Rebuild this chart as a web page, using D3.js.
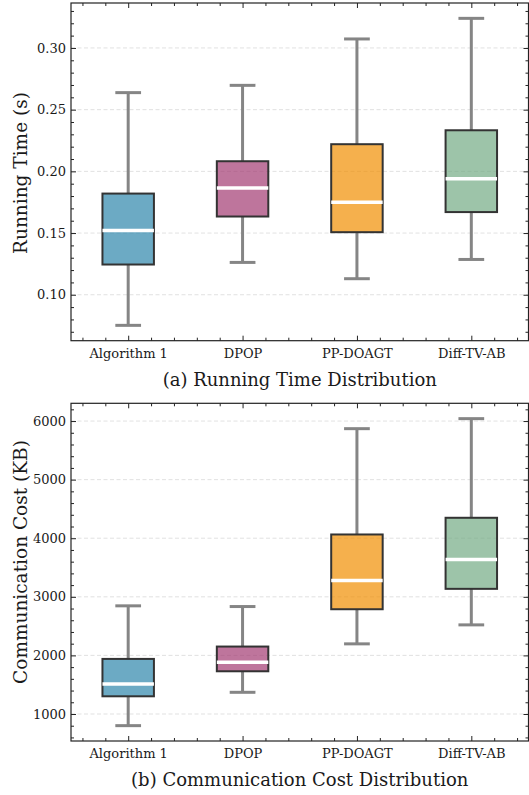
<!DOCTYPE html>
<html>
<head>
<meta charset="utf-8">
<script src="https://cdn.jsdelivr.net/npm/d3@7"></script>
<style>
  html, body { margin: 0; padding: 0; background: #fff; }
  svg text { font-family: "DejaVu Serif", "Liberation Serif", serif; fill: #1a1a1a; }
</style>
</head>
<body>
<svg id="chart" width="529" height="795"></svg>
<script>
// ---------- data ----------
const categories = ["Algorithm 1", "DPOP", "PP-DOAGT", "Diff-TV-AB"];
const boxColors = ["#2E86AB", "#A23B72", "#F18F01", "#73AB84"];

const timeLow    = [0.0752, 0.1262, 0.1130, 0.1286];
const timeQ1     = [0.1245, 0.1634, 0.1507, 0.1670];
const timeMedian = [0.1520, 0.1866, 0.1750, 0.1940];
const timeQ3     = [0.1820, 0.2082, 0.2220, 0.2333];
const timeHigh   = [0.2638, 0.2697, 0.3073, 0.3240];
const timeTicks  = [0.10, 0.15, 0.20, 0.25, 0.30];

const costLow    = [801, 1370, 2197, 2521];
const costQ1     = [1302, 1729, 2788, 3136];
const costMedian = [1513, 1883, 3278, 3637];
const costQ3     = [1940, 2151, 4064, 4349];
const costHigh   = [2846, 2834, 5870, 6041];
const costTicks  = [1000, 2000, 3000, 4000, 5000, 6000];

const svg = d3.select("#chart");
const left = 71, right = 528.5;

function panel(cfg) {
  const g = svg.append("g");
  const x = d3.scaleLinear().domain([0.5, 4.5]).range([left, right]);
  const lo = d3.min(cfg.low), hi = d3.max(cfg.high);
  const pad = (hi - lo) * 0.05;
  const y = d3.scaleLinear().domain([lo - pad, hi + pad]).range([cfg.bottom, cfg.top]);

  // grid
  g.append("g").selectAll("line").data(cfg.ticks).join("line")
    .attr("x1", left).attr("x2", right)
    .attr("y1", d => y(d)).attr("y2", d => y(d))
    .attr("stroke", "#d9d9d9").attr("stroke-width", 0.8)
    .attr("stroke-dasharray", "4,2.5");

  const boxW = 0.45, capW = boxW / 2;
  const idx = d3.range(categories.length);
  const pos = i => i + 1;

  // whiskers
  g.append("g").selectAll("line.wl").data(idx).join("line")
    .attr("x1", i => x(pos(i))).attr("x2", i => x(pos(i)))
    .attr("y1", i => y(cfg.low[i])).attr("y2", i => y(cfg.q1[i]))
    .attr("stroke", "#858585").attr("stroke-width", 3);
  g.append("g").selectAll("line.wh").data(idx).join("line")
    .attr("x1", i => x(pos(i))).attr("x2", i => x(pos(i)))
    .attr("y1", i => y(cfg.high[i])).attr("y2", i => y(cfg.q3[i]))
    .attr("stroke", "#858585").attr("stroke-width", 3);
  // caps
  [cfg.low, cfg.high].forEach(arr => {
    g.append("g").selectAll("line").data(idx).join("line")
      .attr("x1", i => x(pos(i) - capW / 2)).attr("x2", i => x(pos(i) + capW / 2))
      .attr("y1", i => y(arr[i])).attr("y2", i => y(arr[i]))
      .attr("stroke", "#858585").attr("stroke-width", 3);
  });
  // boxes
  g.append("g").selectAll("rect").data(idx).join("rect")
    .attr("x", i => x(pos(i) - boxW / 2))
    .attr("width", i => x(pos(i) + boxW / 2) - x(pos(i) - boxW / 2))
    .attr("y", i => y(cfg.q3[i]))
    .attr("height", i => y(cfg.q1[i]) - y(cfg.q3[i]))
    .attr("fill", i => boxColors[i]).attr("fill-opacity", 0.7)
    .attr("stroke", "#333").attr("stroke-width", 2);
  // medians
  g.append("g").selectAll("line").data(idx).join("line")
    .attr("x1", i => x(pos(i) - boxW / 2)).attr("x2", i => x(pos(i) + boxW / 2))
    .attr("y1", i => y(cfg.median[i])).attr("y2", i => y(cfg.median[i]))
    .attr("stroke", "#fff").attr("stroke-width", 3.5);

  // minor tick values
  const yStep = cfg.ticks[1] - cfg.ticks[0];
  const yMinor = [];
  const [d0, d1] = y.domain();
  const n0 = Math.ceil(d0 / (yStep / 5) - 1e-9), n1 = Math.floor(d1 / (yStep / 5) + 1e-9);
  for (let k = n0; k <= n1; k++) {
    const v = k * yStep / 5;
    if (Math.abs(Math.round(v / yStep) * yStep - v) > yStep * 1e-3) yMinor.push(v);
  }
  const xMinor = d3.range(3, 23).map(k => k / 5).filter(v => Math.abs(v - Math.round(v)) > 1e-6);

  const styleAxis = sel => {
    sel.select(".domain").remove();
    sel.selectAll(".tick line").attr("stroke", "#222").attr("stroke-width", 1);
  };

  // left axis
  g.append("g").attr("transform", `translate(${left},0)`)
    .call(d3.axisLeft(y).tickValues(cfg.ticks).tickSize(-5).tickPadding(5).tickFormat(cfg.fmt))
    .call(styleAxis)
    .call(s => s.selectAll("text").attr("font-size", 13));
  g.append("g").attr("transform", `translate(${left},0)`)
    .call(d3.axisLeft(y).tickValues(yMinor).tickSize(-3).tickFormat(""))
    .call(styleAxis);
  // right axis
  g.append("g").attr("transform", `translate(${right},0)`)
    .call(d3.axisRight(y).tickValues(cfg.ticks).tickSize(-5).tickFormat(""))
    .call(styleAxis);
  g.append("g").attr("transform", `translate(${right},0)`)
    .call(d3.axisRight(y).tickValues(yMinor).tickSize(-3).tickFormat(""))
    .call(styleAxis);
  // bottom axis
  g.append("g").attr("transform", `translate(0,${cfg.bottom})`)
    .call(d3.axisBottom(x).tickValues([1, 2, 3, 4]).tickSize(-5).tickPadding(8)
      .tickFormat(d => categories[d - 1]))
    .call(styleAxis)
    .call(s => s.selectAll("text").attr("font-size", 13));
  g.append("g").attr("transform", `translate(0,${cfg.bottom})`)
    .call(d3.axisBottom(x).tickValues(xMinor).tickSize(-3).tickFormat(""))
    .call(styleAxis);
  // top axis
  g.append("g").attr("transform", `translate(0,${cfg.top})`)
    .call(d3.axisTop(x).tickValues([1, 2, 3, 4]).tickSize(-5).tickFormat(""))
    .call(styleAxis);
  g.append("g").attr("transform", `translate(0,${cfg.top})`)
    .call(d3.axisTop(x).tickValues(xMinor).tickSize(-3).tickFormat(""))
    .call(styleAxis);

  // frame
  g.append("rect").attr("x", left).attr("y", cfg.top)
    .attr("width", right - left).attr("height", cfg.bottom - cfg.top)
    .attr("fill", "none").attr("stroke", "#222").attr("stroke-width", 1.2);

  // labels
  g.append("text")
    .attr("transform", `translate(${cfg.ylabX},${cfg.ylabY}) rotate(-90)`)
    .attr("text-anchor", "middle").attr("dominant-baseline", "central")
    .attr("font-size", 18.5).text(cfg.ylabel);
  g.append("text")
    .attr("x", (left + right) / 2).attr("y", cfg.bottom + 45)
    .attr("text-anchor", "middle").attr("font-size", 18).text(cfg.title);
}

panel({
  top: 3, bottom: 340.7,
  low: timeLow, q1: timeQ1, median: timeMedian, q3: timeQ3, high: timeHigh,
  ticks: timeTicks, fmt: d3.format(".2f"),
  ylabel: "Running Time (s)", ylabX: 20, ylabY: 173,
  title: "(a) Running Time Distribution"
});
panel({
  top: 403.3, bottom: 741,
  low: costLow, q1: costQ1, median: costMedian, q3: costQ3, high: costHigh,
  ticks: costTicks, fmt: d3.format("d"),
  ylabel: "Communication Cost (KB)", ylabX: 20, ylabY: 562,
  title: "(b) Communication Cost Distribution"
});
</script>
</body>
</html>
